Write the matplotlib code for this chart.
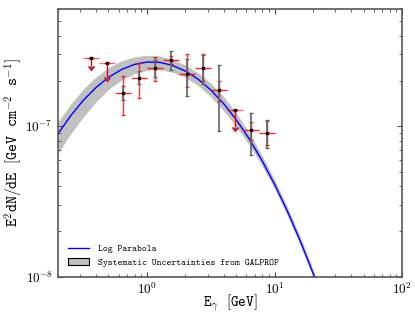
import numpy as np
import matplotlib.pyplot as plt
from matplotlib.patches import Patch
from matplotlib.lines import Line2D
from matplotlib import ticker

plt.rcParams['mathtext.fontset'] = 'cm'

# log parabola fit and GALPROP systematic band
curve_E = [0.1995, 0.2512, 0.3162, 0.3981, 0.5012, 0.631, 0.794, 1.0, 1.259, 1.585, 1.995,
           2.512, 3.162, 3.981, 5.012, 6.31, 7.94, 10.0, 12.59, 15.85, 19.95, 25.12]
curve_F = [8.81e-8, 1.164e-7, 1.479e-7, 1.803e-7, 2.113e-7, 2.377e-7, 2.570e-7, 2.667e-7,
           2.655e-7, 2.535e-7, 2.328e-7, 2.056e-7, 1.742e-7, 1.416e-7, 1.104e-7, 8.28e-8,
           5.96e-8, 4.12e-8, 2.735e-8, 1.742e-8, 1.067e-8, 6.27e-9]
band_lo = [6.53e-8, 8.83e-8, 1.148e-7, 1.449e-7, 1.758e-7, 2.023e-7, 2.228e-7, 2.350e-7,
           2.366e-7, 2.286e-7, 2.113e-7, 1.866e-7, 1.570e-7, 1.268e-7, 9.95e-8, 7.55e-8,
           5.50e-8, 3.85e-8, 2.55e-8, 1.626e-8, 1.002e-8, 5.92e-9]
band_hi = [1.059e-7, 1.393e-7, 1.758e-7, 2.118e-7, 2.455e-7, 2.716e-7, 2.884e-7, 2.958e-7,
           2.924e-7, 2.780e-7, 2.553e-7, 2.265e-7, 1.932e-7, 1.581e-7, 1.225e-7, 9.08e-8,
           6.46e-8, 4.42e-8, 2.93e-8, 1.866e-8, 1.135e-8, 6.64e-9]

# energy bins (GeV)
bin_edges = [0.316, 0.422, 0.562, 0.750, 1.0, 1.334, 1.778, 2.371, 3.162, 4.217, 5.623, 7.499, 10.0]

# upper limits
ul_bins = [0, 1, 9]
ul_flux = [2.82e-7, 2.61e-7, 1.29e-7]
ul_arrow = [2.53e-7, 2.13e-7, 0.995e-7]

# detected bins: statistical (red) and systematic (black) errors
det_bins = [2, 3, 4, 5, 6, 7, 8, 10, 11]
det_flux = [1.67e-7, 2.10e-7, 2.45e-7, 2.75e-7, 2.21e-7, 2.45e-7, 1.73e-7, 0.94e-7, 0.90e-7]
stat_lo = [1.18e-7, 1.55e-7, 2.00e-7, 2.58e-7, 1.81e-7, 2.00e-7, 1.47e-7, 0.815e-7, 0.75e-7]
stat_hi = [2.15e-7, 2.64e-7, 2.90e-7, 2.92e-7, 3.00e-7, 3.00e-7, 2.00e-7, 1.06e-7, 1.08e-7]
sys_lo = [1.49e-7, 1.90e-7, 2.12e-7, 2.35e-7, 1.58e-7, 1.91e-7, 0.926e-7, 0.647e-7, 0.717e-7]
sys_hi = [1.85e-7, 2.33e-7, 2.76e-7, 3.16e-7, 2.78e-7, 2.97e-7, 2.54e-7, 1.23e-7, 1.10e-7]

edges = np.array(bin_edges)
centers = np.sqrt(edges[:-1] * edges[1:])

fig = plt.figure(figsize=(4.15, 3.12), dpi=100)
ax = fig.add_axes([0.139, 0.113, 0.830, 0.858])
ax.set_xscale('log')
ax.set_yscale('log')

ax.fill_between(curve_E, band_lo, band_hi, color='#c0c0c0', lw=0, zorder=1)
ax.plot(curve_E, curve_F, color='blue', lw=1, zorder=2)

# red: bin widths and stat errors
xd = centers[det_bins]
fd = np.array(det_flux)
ax.errorbar(xd, fd, xerr=[xd - edges[det_bins], edges[np.array(det_bins) + 1] - xd],
            fmt='none', ecolor='red', elinewidth=1, capsize=0, alpha=0.85, zorder=3)
ax.errorbar(xd, fd, yerr=[fd - np.array(stat_lo), np.array(stat_hi) - fd],
            fmt='none', ecolor='red', elinewidth=1, capsize=1.5, alpha=0.8, zorder=3)

xu = centers[ul_bins]
fu = np.array(ul_flux)
ax.errorbar(xu, fu, xerr=[xu - edges[ul_bins], edges[np.array(ul_bins) + 1] - xu],
            fmt='none', ecolor='red', elinewidth=1, capsize=0, alpha=0.6, zorder=3)
ax.errorbar(xu, fu, yerr=[fu - np.array(ul_arrow), np.zeros(len(fu))], uplims=True,
            fmt='none', ecolor='red', elinewidth=1, capsize=2, zorder=3)

# black: systematic errors
eb = ax.errorbar(xd, fd, yerr=[fd - np.array(sys_lo), np.array(sys_hi) - fd],
                 fmt='s', ms=2, color='k', ecolor='0.4', elinewidth=1.2,
                 capsize=1.5, capthick=1, zorder=4)
for c in eb[1]:
    c.set_color('k')
ax.plot(xu, fu, 's', ms=2, color='k', zorder=4)

ax.set_xlim(0.2, 100)
ax.set_ylim(1e-8, 6e-7)
fmt = ticker.FuncFormatter(lambda v, p: r'$10^{%d}$' % round(np.log10(v)))
ax.xaxis.set_major_formatter(fmt)
ax.yaxis.set_major_formatter(fmt)
ax.yaxis.set_minor_formatter(ticker.NullFormatter())
ax.tick_params(which='both', direction='in', top=True, right=True, labelsize=9.5, color='0.3')
ax.tick_params(which='major', length=3.5, width=0.8)
ax.tick_params(which='minor', length=2, width=0.6)
for s in ax.spines.values():
    s.set_color('0.35')
    s.set_linewidth(1.2)

ax.set_xlabel(r'$\mathtt{E_\gamma\ \ [GeV]}$', fontsize=10.5)
ax.set_ylabel(r'$\mathtt{E^2dN/dE\ \ [GeV\ \ cm^{-2}\ \ s^{-1}]}$', fontsize=11)
ax.xaxis.set_label_coords(0.5, -0.057)
ax.yaxis.set_label_coords(-0.096, 0.5)

handles = [Line2D([], [], color='blue', lw=1),
           Patch(facecolor='#c0c0c0', edgecolor='k', lw=0.8)]
ax.legend(handles, ['Log Parabola', 'Systematic Uncertainties from GALPROP'],
          loc='lower left', frameon=False, prop={'family': 'cmtt10', 'size': 6.7},
          handlelength=2.3, handletextpad=0.9, borderaxespad=0.7)

fig.savefig('out.png', dpi=100)
